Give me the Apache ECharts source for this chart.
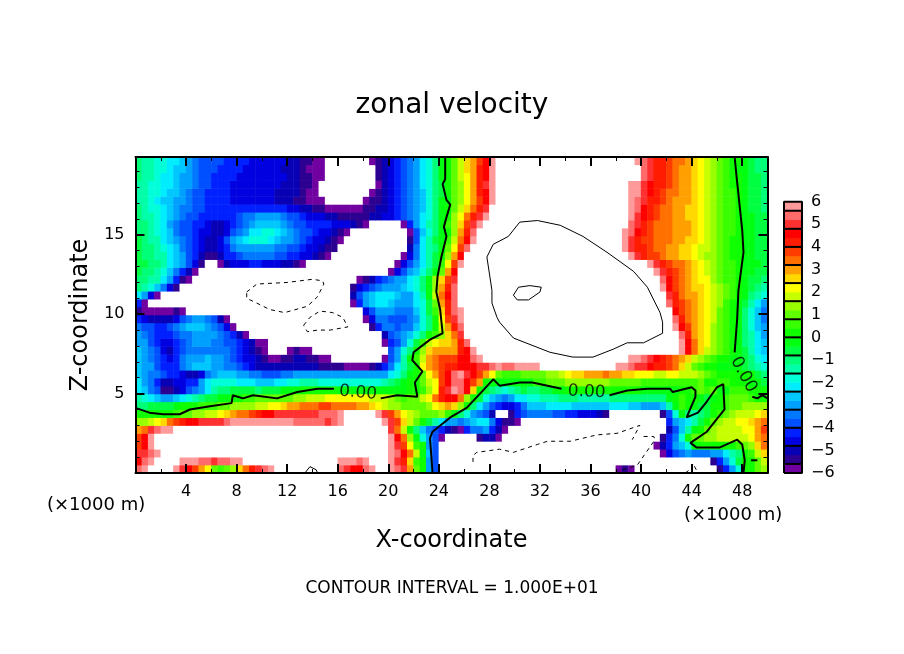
<!DOCTYPE html>
<html>
<head>
<meta charset="utf-8">
<title>zonal velocity</title>
<script src="https://cdn.jsdelivr.net/npm/echarts@6/dist/echarts.min.js"></script>
<style>
html,body{margin:0;padding:0;background:#fff}
#chart{width:904px;height:654px}
</style>
</head>
<body>
<div id="chart"></div>
<script>
// velocity, 0.5 km x 0.5 km cells, top row first. W / L = off the scale (white)
var W=7, L=-7;
var z1975=[-1.1,-1.3,-1.5,-1.7,-1.9,-2.1,-2.4,-2.8,-3.1,-3.5, -3.7,-3.9,-4,-4,-4.1,-4.3,-4.4,-4.4,-4.5,-4.7, -4.7,-4.7,-4.8,-4.8,-4.9,-5.1,-5.4,-5.6,-5.8,-5.9, L,L,L,L,L,L,L,-5.9,-5.4,-5, -4.5,-4.1,-3.8,-3.3,-2.9,-2.4,-1.8,-1.2,-0.4,0.3, 1.1,1.8,2.4,3,3.8,4.6,5.6,W,W,W, W,W,W,W,W,W,W,W,W,W, W,W,W,W,W,W,W,W,W,5.9, 5.4,4.8,4.3,4.1,3.8,3.4,3.2,3,2.6,2.2, 1.7,1.4,1,0.7,0.3,0,-0.4,-0.7,-0.9,-1.1];
var z1925=[-1.1,-1.3,-1.5,-1.7,-2,-2.2,-2.5,-2.8,-3.1,-3.5, -3.7,-3.9,-4,-4.1,-4.2,-4.3,-4.4,-4.5,-4.5,-4.7, -4.7,-4.7,-4.8,-4.9,-5,-5.2,-5.5,-5.7,-5.8,-5.9, L,L,L,L,L,L,L,L,-5.4,-4.9, -4.5,-4.1,-3.8,-3.3,-2.9,-2.3,-1.8,-1.1,-0.4,0.3, 1.1,1.9,2.4,3,4,4.6,5.7,W,W,W, W,W,W,W,W,W,W,W,W,W, W,W,W,W,W,W,W,W,W,W, 5.5,4.8,4.3,4,3.7,3.4,3.1,2.9,2.5,2.2, 1.7,1.3,0.9,0.6,0.3,-0.1,-0.4,-0.7,-0.9,-1.1];
var z1875=[-1.2,-1.4,-1.6,-1.8,-2.1,-2.3,-2.6,-2.9,-3.2,-3.5, -3.7,-3.9,-4.1,-4.2,-4.3,-4.4,-4.5,-4.5,-4.6,-4.7, -4.7,-4.7,-4.8,-4.8,-5,-5.2,-5.4,-5.6,-5.8,-5.9, L,L,L,L,L,L,L,L,-5.6,-5, -4.6,-4.2,-3.8,-3.4,-2.9,-2.4,-1.8,-1.1,-0.3,0.2, 0.9,1.7,2.3,2.9,4,4.7,5.8,W,W,W, W,W,W,W,W,W,W,W,W,W, W,W,W,W,W,W,W,W,W,W, 5.4,4.8,4.3,4,3.7,3.4,3.1,2.9,2.5,2.2, 1.7,1.3,0.9,0.6,0.3,0,-0.3,-0.6,-0.8,-1];
var z1825=[-1.3,-1.5,-1.7,-1.9,-2.1,-2.4,-2.7,-3,-3.2,-3.6, -3.8,-4,-4.2,-4.3,-4.4,-4.5,-4.5,-4.6,-4.7,-4.7, -4.7,-4.8,-4.8,-4.9,-5,-5.2,-5.4,-5.6,-5.9,L, L,L,L,L,L,L,L,L,-5.8,-5.1, -4.7,-4.3,-3.9,-3.4,-3,-2.4,-1.8,-1.2,-0.5,0, 0.8,1.5,2.2,2.8,4,4.8,5.9,W,W,W, W,W,W,W,W,W,W,W,W,W, W,W,W,W,W,W,W,W,5.9,5.6, 5.1,4.6,4.2,4,3.6,3.3,3,2.8,2.5,2.1, 1.7,1.3,0.9,0.6,0.3,0.1,-0.3,-0.6,-0.8,-1];
var z1775=[-1.3,-1.5,-1.8,-2,-2.3,-2.6,-2.8,-3,-3.4,-3.7, -3.9,-4.1,-4.3,-4.4,-4.4,-4.5,-4.6,-4.6,-4.7,-4.7, -4.8,-4.8,-4.9,-4.9,-5,-5.2,-5.4,-5.7,-5.9,L, L,L,L,L,L,L,L,-5.9,-5.6,-5.1, -4.8,-4.4,-4,-3.5,-3.1,-2.5,-1.8,-1.1,-0.6,0, 0.8,1.4,2.2,2.8,4,4.6,5.7,W,W,W, W,W,W,W,W,W,W,W,W,W, W,W,W,W,W,W,W,W,5.9,5.6, 5,4.5,4.1,3.8,3.5,3.2,3,2.8,2.5,2.2, 1.8,1.4,1,0.7,0.4,0.1,-0.3,-0.5,-0.8,-0.9];
var z1725=[-1.4,-1.6,-1.8,-2.2,-2.5,-2.8,-3,-3.2,-3.6,-3.9, -4,-4.2,-4.3,-4.4,-4.4,-4.5,-4.5,-4.6,-4.7,-4.7, -4.8,-4.8,-4.9,-5,-5.1,-5.3,-5.5,-5.8,-5.9,-5.9, L,L,L,L,L,L,-5.9,-5.6,-5.3,-5, -4.7,-4.3,-3.9,-3.5,-3,-2.5,-1.8,-1.1,-0.4,-0.1, 0.8,1.5,2.3,2.8,3.9,4.5,5.6,W,W,W, W,W,W,W,W,W,W,W,W,W, W,W,W,W,W,W,W,W,5.9,5.4, 4.8,4.3,4,3.7,3.4,3.1,3,2.8,2.5,2.2, 1.8,1.4,1,0.7,0.4,0.1,-0.2,-0.5,-0.7,-0.9];
var z1675=[-1.2,-1.4,-1.7,-2,-2.4,-2.7,-3,-3.3,-3.6,-3.8, -4,-4.1,-4.2,-4.3,-4.3,-4.3,-4.3,-4.3,-4.3,-4.2, -4.2,-4.2,-4.3,-4.4,-4.6,-4.8,-5,-5.2,-5.4,-5.6, -5.8,-5.9,-5.9,-5.9,-5.9,-5.9,-5.6,-5.3,-5.1,-4.9, -4.6,-4.3,-3.9,-3.5,-3,-2.5,-1.8,-1,-0.4,0.1, 1,1.8,2.7,3.3,4.2,5,W,W,W,W, W,W,W,W,W,W,W,W,W,W, W,W,W,W,W,W,W,W,5.9,5.2, 4.6,4.1,3.8,3.5,3.3,3,2.9,2.7,2.4,2.2, 1.8,1.4,1,0.7,0.4,0.1,-0.2,-0.5,-0.7,-0.9];
var z1625=[-1.1,-1.3,-1.6,-1.9,-2.4,-2.8,-3.2,-3.4,-3.7,-3.9, -4.1,-4.2,-4.3,-4.4,-4.4,-4.1,-3.8,-3.6,-3.3,-3.1, -3,-3,-3.2,-3.4,-3.7,-4,-4.3,-4.5,-4.7,-4.8, -5,-5.1,-5.3,-5.4,-5.5,-5.4,-5.3,-5.2,-5,-4.8, -4.6,-4.3,-3.9,-3.5,-3,-2.4,-1.7,-1.1,-0.3,0.2, 1.2,2.2,3.3,4,5,5.9,W,W,W,W, W,W,W,W,W,W,W,W,W,W, W,W,W,W,W,W,W,W,5.8,5, 4.4,4,3.7,3.4,3.3,3.1,2.9,2.7,2.4,2.2, 1.8,1.4,1,0.7,0.4,0.2,-0.2,-0.4,-0.6,-0.8];
var z1575=[-1,-1.2,-1.5,-1.9,-2.4,-2.9,-3.4,-3.7,-4,-4.2, -4.4,-4.7,-5,-5,-4.7,-4.3,-3.8,-3.4,-3,-2.7, -2.6,-2.6,-2.8,-3,-3.3,-3.7,-3.9,-4.1,-4.2,-4.3, -4.4,-4.5,-4.6,-4.8,-5.1,-5.6,-5.9,L,L,L, L,L,-5.9,-4.4,-3.2,-2.3,-1.6,-0.9,-0.2,0.4, 1.4,2.5,3.6,4.8,5.9,W,W,W,W,W, W,W,W,W,W,W,W,W,W,W, W,W,W,W,W,W,W,W,5.4,4.8, 4.2,3.8,3.5,3.3,3.2,3.1,3,2.8,2.4,2.1, 1.7,1.4,1,0.7,0.4,0.1,-0.1,-0.4,-0.6,-0.8];
var z1525=[-0.9,-1.1,-1.4,-1.7,-2.2,-2.8,-3.4,-3.8,-4,-4.3, -4.5,-4.8,-5,-5,-4.5,-4,-3.3,-2.9,-2.3,-2.1, -2,-1.9,-2.2,-2.6,-3,-3.4,-3.8,-4,-4.3,-4.5, -4.7,-5,-5.3,-5.8,L,L,L,L,L,L, L,L,L,-5.8,-3.9,-2.6,-1.7,-0.9,-0.2,0.3, 1.4,2.8,4,5.4,W,W,W,W,W,W, W,W,W,W,W,W,W,W,W,W, W,W,W,W,W,W,W,5.9,5.2,4.5, 4,3.7,3.5,3.4,3.3,3.1,3,2.8,2.5,2.1, 1.7,1.4,1,0.7,0.4,0.1,-0.1,-0.4,-0.6,-0.8];
var z1475=[-0.8,-1,-1.3,-1.6,-2.1,-2.7,-3.2,-3.6,-4,-4.4, -4.8,-5,-5,-4.6,-4,-3.2,-2.6,-2.2,-2,-1.9, -1.9,-2.1,-2.5,-3,-3.2,-3.6,-3.9,-4.2,-4.5,-4.8, -5,-5.4,-5.9,L,L,L,L,L,L,L, L,L,L,-5.6,-3.7,-2.4,-1.6,-0.8,-0.1,0.5, 1.8,3.2,4.6,5.9,W,W,W,W,W,W, W,W,W,W,W,W,W,W,W,W, W,W,W,W,W,W,W,5.6,4.9,4.2, 3.9,3.6,3.4,3.3,3.2,3.1,2.9,2.7,2.4,2.1, 1.7,1.3,1,0.6,0.3,0.1,-0.1,-0.4,-0.6,-0.8];
var z1425=[-0.8,-1,-1.2,-1.5,-1.8,-2.3,-2.8,-3.3,-3.7,-4.2, -4.8,-5.2,-5.1,-4.6,-4.1,-3.5,-3.2,-3,-3,-2.9, -3,-3.1,-3.3,-3.5,-3.8,-4,-4.2,-4.5,-4.7,-5, -5.3,-5.6,L,L,L,L,L,L,L,L, L,L,L,-5,-3.6,-2.3,-1.6,-0.9,-0.1,0.8, 2.2,3.6,5.2,W,W,W,W,W,W,W, W,W,W,W,W,W,W,W,W,W, W,W,W,W,W,W,W,5.9,5,4.2, 4,3.7,3.5,3.2,3,2.9,2.7,2.5,2.2,1.9, 1.6,1.2,0.9,0.6,0.3,0.1,-0.1,-0.4,-0.6,-0.7];
var z1375=[-0.7,-0.9,-1.1,-1.3,-1.6,-2.1,-2.6,-3.2,-3.7,-4.4, -5,-5.6,-5.4,-4.9,-4.4,-4.1,-3.7,-3.6,-3.5,-3.4, -3.4,-3.5,-3.8,-4,-4.2,-4.4,-4.6,-4.8,-5.1,-5.5, -5.9,L,L,L,L,L,L,L,L,L, L,L,-5.8,-4.8,-3.4,-2.2,-1.5,-0.8,0.1,1.4, 3,4.6,W,W,W,W,W,W,W,W, W,W,W,W,W,W,W,W,W,W, W,W,W,W,W,W,W,W,5.6,4.8, 4.3,3.9,3.6,3.3,3,2.8,2.6,2.4,2.1,1.8, 1.5,1.2,0.8,0.6,0.3,0,-0.1,-0.3,-0.5,-0.6];
var z1325=[-0.7,-0.8,-1,-1.2,-1.6,-2.1,-2.7,-3.2,-3.7,-4.6, -5.5,L,L,-5.8,-5,-4.8,-4.6,-4.5,-4.4,-4.4, -4.5,-4.5,-4.7,-4.9,-5.2,-5.6,-5.9,L,L,L, L,L,L,L,L,L,L,L,L,L, L,-5.8,-4.8,-3.8,-3,-2.1,-1.4,-0.6,0.5,2, 3.8,5.6,W,W,W,W,W,W,W,W, W,W,W,W,W,W,W,W,W,W, W,W,W,W,W,W,W,W,W,W, W,5.9,5,4.3,3.8,3.4,3.2,2.8,2.4,2.1, 1.7,1.3,0.9,0.6,0.4,0.1,-0.1,-0.3,-0.4,-0.5];
var z1275=[-0.8,-0.9,-1.1,-1.3,-1.9,-2.6,-3.4,-4.2,-5,-5.9, L,L,L,L,L,L,L,L,L,L, L,L,L,L,L,L,L,L,L,L, L,L,L,L,L,L,L,L,L,L, -5.8,-4.8,-3.9,-3.2,-2.6,-1.9,-1.2,-0.4,1,3, 4.4,W,W,W,W,W,W,W,W,W, W,W,W,W,W,W,W,W,W,W, W,W,W,W,W,W,W,W,W,W, W,W,5.9,4.8,4,3.6,3.3,2.9,2.5,2.2, 1.9,1.4,1,0.7,0.4,0.1,-0.2,-0.4,-0.6,-0.7];
var z1225=[-1,-1.1,-1.3,-1.6,-2.3,-3.2,-4.2,-5.4,-5.9,L, L,L,L,L,L,L,L,L,L,L, L,L,L,L,L,L,L,L,L,L, L,L,L,L,L,-5.9,-5.4,-4.9,-4.2,-3.8, -3.4,-3.1,-2.9,-2.4,-2,-1.2,-0.4,1.2,2.6,3.8, 5,W,W,W,W,W,W,W,W,W, W,W,W,W,W,W,W,W,W,W, W,W,W,W,W,W,W,W,W,W, W,W,W,5.4,4.4,3.8,3.4,3,2.6,2.3, 2,1.5,1.1,0.7,0.4,0.1,-0.3,-0.5,-0.8,-1];
var z1175=[-1.1,-1.4,-1.9,-2.6,-3.6,-4.8,-5.6,L,L,L, L,L,L,L,L,L,L,L,L,L, L,L,L,L,L,L,L,L,L,L, L,L,L,L,-5.6,-4.8,-4.3,-3.9,-3.5,-3.2, -3.2,-2.9,-2.8,-2.4,-2,-1.2,-0.4,1.4,3,4.2, 5.2,W,W,W,W,W,W,W,W,W, W,W,W,W,W,W,W,W,W,W, W,W,W,W,W,W,W,W,W,W, W,W,W,5.6,4.4,3.8,3.4,3,2.7,2.4, 2,1.6,1.2,0.8,0.4,0.2,-0.3,-0.6,-1,-1.4];
var z1125=[-2.2,-3.2,-4.6,-5.8,L,L,L,L,L,L, L,L,L,L,L,L,L,L,L,L, L,L,L,L,L,L,L,L,L,L, L,L,L,L,-5.2,-4,-3.2,-2.8,-2.4,-2.2, -2.4,-2.8,-3,-2.9,-2.4,-1.6,-0.4,1.8,3.2,4.4, 5.4,W,W,W,W,W,W,W,W,W, W,W,W,W,W,W,W,W,W,W, W,W,W,W,W,W,W,W,W,W, W,W,W,W,5,4,3.5,3.1,2.8,2.5, 2.2,1.7,1.2,0.8,0.4,0.1,-0.4,-0.9,-1.4,-2];
var z1075=[-4.4,-5.8,L,L,L,L,L,L,L,L, L,L,L,L,L,L,L,L,L,L, L,L,L,L,L,L,L,L,L,L, L,L,L,L,-5.9,-4.4,-3.2,-2.6,-2.2,-2.1, -2.5,-3,-3.1,-3,-2.4,-1.7,-0.6,1,3,4.2, 5.4,W,W,W,W,W,W,W,W,W, W,W,W,W,W,W,W,W,W,W, W,W,W,W,W,W,W,W,W,W, W,W,W,W,5.4,4.2,3.6,3.2,2.8,2.4, 2.2,1.7,1.2,0.7,0.1,-0.2,-0.8,-1.4,-2.2,-3];
var z1025=[-5.4,-5.9,-5.9,-5.9,-5.9,-5.8,-5.4,-5.9,L,L, L,L,L,L,L,L,L,L,L,L, L,L,L,L,L,L,L,L,L,L, L,L,L,L,L,L,-4.8,-3.8,-3.1,-2.9, -3.1,-3.4,-3.6,-3.4,-2.8,-1.8,-0.7,0.4,2.6,4, 5.4,6,W,W,W,W,W,W,W,W, W,W,W,W,W,W,W,W,W,W, W,W,W,W,W,W,W,W,W,W, W,W,W,W,W,4.6,3.8,3.3,2.9,2.4, 2.1,1.6,1,0.5,0,-0.4,-1,-1.8,-2.8,-3.6];
var z0975=[-4.4,-4.8,-5,-5.1,-5.1,-5,-4.6,-3.9,-3.4,-3.2, -3.2,-3.4,-4,-5,-5.9,L,L,L,L,L, L,L,L,L,L,L,L,L,L,L, L,L,L,L,L,L,-5.9,-4.6,-3.6,-3.6, -3.7,-3.8,-3.8,-3.6,-3,-2,-1.1,0.3,2.2,3.6, 4.8,5.8,W,W,W,W,W,W,W,W, W,W,W,W,W,W,W,W,W,W, W,W,W,W,W,W,W,W,W,W, W,W,W,W,W,5.2,4.2,3.4,3,2.6, 2.1,1.6,1,0.5,0,-0.4,-1,-1.8,-2.8,-3.4];
var z0925=[-3.4,-3.8,-4,-4.3,-4.2,-3.8,-3.5,-3,-2.8,-2.7, -2.7,-2.9,-3.4,-3.8,-4.6,-5.8,L,L,L,L, L,L,L,L,L,L,L,L,L,L, L,L,L,L,L,L,L,-5.6,-4.4,-3.6, -3.6,-3.7,-3.6,-3.3,-2.8,-1.9,-1.1,0.2,1.6,3, 4.2,5.4,W,W,W,W,W,W,W,W, W,W,W,W,W,W,W,W,W,W, W,W,W,W,W,W,W,W,W,W, W,W,W,W,W,5.8,4.6,3.6,3,2.6, 2.1,1.5,1,0.5,0,-0.4,-1,-1.7,-2.6,-3.2];
var z0875=[-3.2,-3.4,-3.8,-4.1,-4.4,-4.4,-4,-3.6,-3.4,-3.2, -3,-3,-3.1,-3.4,-3.8,-4.2,-5,-5.8,L,L, L,L,L,L,L,L,L,L,L,L, L,L,L,L,L,L,L,L,L,-5.2, -4,-3.6,-3.2,-2.6,-1.9,-1,0,0.5,1.2,2.5, 3.4,4.8,W,W,W,W,W,W,W,W, W,W,W,W,W,W,W,W,W,W, W,W,W,W,W,W,W,W,W,W, W,W,W,W,W,W,5.4,4,3.1,2.6, 2,1.5,1,0.5,0,-0.4,-1,-1.6,-2.4,-3];
var z0825=[-2.9,-3.2,-3.7,-4.1,-4.7,-4.8,-4.2,-3.8,-3.4,-3.2, -3.2,-3.2,-3.3,-3.4,-3.7,-3.9,-4.3,-4.6,-5,-5.7, -5.9,L,L,L,L,L,L,L,L,L, L,L,L,L,L,L,L,L,L,-5.8, -4.4,-3.7,-3,-1.8,-0.8,0.5,1.6,2.2,2.6,2.6, 2.8,4,5.2,W,W,W,W,W,W,W, W,W,W,W,W,W,W,W,W,W, W,W,W,W,W,W,W,W,W,W, W,W,W,W,W,W,5.9,4.4,3.2,2.6, 2,1.5,1,0.5,0,-0.4,-0.9,-1.5,-2.2,-2.8];
var z0775=[-2.8,-3.1,-3.6,-4,-4.7,-5,-4.4,-3.9,-3.5,-3.4, -3.3,-3.3,-3.4,-3.5,-3.6,-3.8,-4.2,-4.6,-4.9,-5.4, -5.9,L,L,L,-5.9,-5.6,-5.7,-5.9,L,L, L,L,L,L,L,L,L,L,L,L, -3.8,-3.2,-1.8,-1,0,1.2,2.4,2.8,2.9,2.9, 3,4,4.6,5.8,W,W,W,W,W,W, W,W,W,W,W,W,W,W,W,W, W,W,W,W,W,W,W,W,W,W, W,W,W,W,W,W,5.8,4.5,3.2,2.4, 1.8,1.3,0.9,0.4,0.1,-0.4,-0.8,-1.4,-2.2,-2.6];
var z0725=[-2.6,-2.9,-3.3,-3.8,-4.4,-4.6,-4.2,-3.6,-3.2,-3, -2.9,-2.8,-2.9,-3.1,-3.4,-3.7,-4.1,-4.5,-4.8,-5.2, -5.4,-5.7,-5.8,-5.5,-5.3,-5.2,-5.2,-5.4,-5.6,-5.9, -5.9,L,L,L,L,L,L,L,L,-5.8, -3.9,-3,-1.4,-0.4,0.4,1.6,2.8,3.4,3.6,3.6, 3.9,4.4,4.6,5.2,5.9,W,W,W,W,W, W,W,W,W,W,W,W,W,W,W, W,W,W,W,W,W,W,W,5.9,5.6, 5.2,4.8,4.4,4,3.8,3.5,3,2.4,1.8,1.3, 0.9,0.4,0.1,0,-0.2,-0.4,-0.7,-1.1,-1.7,-2.1];
var z0675=[-2.6,-2.9,-3.2,-3.7,-4.2,-4.4,-4.4,-3.6,-3,-2.8, -2.7,-2.8,-3,-3.2,-3.4,-3.6,-4,-4.3,-4.5,-5, -5.2,-5.2,-5.2,-5.1,-5,-4.9,-5,-5.1,-5.2,-5.4, -5.5,-5.5,-5.6,-5.7,-5.7,-5.8,-5.8,-5.5,-5,-4.4, -3.4,-2.4,-1.6,-0.8,0.2,2,2.8,3.4,3.8,4, 4.2,4.5,4.6,4.7,4.8,5,5.4,5.6,5.4,5.5, 5.6,5.7,5.8,5.9,W,W,W,W,W,W, W,W,W,W,W,W,5.9,5.6,5.2,5, 4.8,4.6,4.2,4,3.8,3.4,2.4,1.7,1,0.7, 0.3,0,-0.1,-0.2,-0.2,-0.3,-0.6,-1,-1.4,-1.8];
var z0625=[-2.8,-3,-3.3,-3.6,-4,-4.2,-4.4,-4.7,-5,-5, -4.6,-3.6,-2.9,-2.6,-2.6,-2.6,-3,-3.2,-3.4,-3.6, -3.8,-3.8,-3.8,-3.6,-3.4,-3.2,-3.1,-3,-3,-3, -3,-3,-3,-3.1,-3.1,-3.1,-3.1,-3.1,-3.1,-3, -2.4,-1.8,-1,-0.4,0,1,2,2.8,3.8,4.4, 5.2,5.6,4.8,4.4,3.8,3,2,1,0.4,0.4, 0.6,0.8,1,1,1,1.2,1.4,1.8,2.2,2.4, 2.6,2.9,3,3.1,3.2,3,2.8,2.6,2.4,2.3, 2.2,2,1.8,1.8,2,2,1.8,1.6,1.6,1.2, 0.8,0.5,0.3,0.1,0,0,0,0,-0.6,-1];
var z0575=[-2.4,-2.9,-3.6,-4.2,-5,-5.2,-4.8,-4.6,-4.2,-4.2, -3,-2.4,-1.9,-1.8,-1.9,-2,-2.2,-2.4,-2.4,-2.5, -2.6,-2.5,-2.4,-2.2,-2,-1.8,-1.6,-1.6,-1.6,-1.7, -1.8,-1.9,-2,-2,-2,-2,-2,-2,-1.8,-1.6, -1.2,-0.8,-0.2,0,0.2,0.8,1.6,2.2,3.8,4.6, 5.4,5.4,4.6,3.8,2.8,0,-0.3,-0.4,-0.3,-0.1, -0.1,-0.1,-0.1,0.4,0.6,0.8,1,1.1,1.2,1.2, 1.2,1.3,1.3,1.3,1.2,1,1,0.9,0.8,0.8, 0.7,0.7,0.6,0.6,0.6,0.5,0.4,0.5,0.7,0.8, 0,0.2,0.4,0.4,0.2,0.1,0,-0.1,-0.4,-0.5];
var z0525=[-2.2,-2.6,-3.4,-4,-5.4,-5.6,-5.2,-4.6,-4,-3.4, -3,-2.2,-1.6,-1.2,-1,-0.8,-0.8,-0.8,-0.8,-0.9, -0.8,-0.7,-0.6,-0.4,-0.3,-0.2,0,0.1,0.2,0.2, 0.1,0,-0.1,-0.2,-0.2,-0.2,-0.3,-0.3,-0.3,-0.4, -0.4,-0.4,-0.3,0,0.2,0.6,1.2,2.2,4,5, 5.6,5.2,4.4,2.6,0.2,-0.6,-1,-1.6,-1.8,-1.6, -1.2,-0.8,-0.9,-0.9,-0.8,-0.7,-0.4,-0.1,0,0, 0.1,0.1,0.1,0.1,0.1,0,0.1,0.1,0.1,0, -0.1,-0.1,-0.1,-0.1,-0.1,-0.1,0,0,0.6,0.8, 0.6,0.8,-0.2,-0.2,0.5,0.5,0.4,0.3,0.2,0.1];
var z0475=[-1.6,-2,-2.2,-2.6,-3,-3,-2.8,-2.4,-2,-1.6, -1.2,-0.8,-0.5,-0.3,-0.1,0,0.1,0.4,0.6,0.8, 0.8,0.9,1,1,1.1,1.3,1.4,1.6,1.8,1.9, 2,2,2.1,2.2,2.2,2.2,2,1.8,1.8,1.6, 1.2,1,0.7,0.8,1,1.6,2.2,3.2,4.2,4.4, 4.6,3.4,1.2,0.1,-0.8,-1.8,-2.6,-3.2,-3.4,-3.2, -2.4,-2.2,-2,-1.8,-1.6,-1.5,-1.4,-1.2,-1.2,-1.2, -1.3,-1.3,-1.4,-1.5,-1.4,-1.2,-1.2,-1,-0.9,-0.9, -0.9,-0.9,-1,-1,-0.3,0,0.4,0.3,0,-0.4, -0.6,-0.2,0.3,0.6,0.8,1,1,0.4,0.2,0.1];
var z0425=[-0.9,-0.9,-0.7,-0.7,-0.6,-0.5,-0.2,0.1,0.2,0.3, 0.4,0.5,0.7,1,1,1.2,1.2,1.2,1.4,1.6, 1.8,2,2.2,2.6,2.8,3,3.2,3.2,3.4,3.6, 3.6,3.5,3.4,3.3,3.2,3,2.8,2.4,2.2,1.8, 1.4,1.2,1,0.9,0.9,1,1.2,2,2.4,2.8, 2.4,1.2,0.1,-1.2,-2.2,-3,-3.8,-4.4,-4.8,-4.6, -4.2,-3.4,-2.8,-2.6,-2.6,-2.4,-2.4,-2.4,-2.4,-2.5, -2.5,-2.6,-2.6,-2.8,-2.6,-2.4,-2.2,-2.4,-2.6,-2.8, -3,-3,-3.2,-2.6,-1.6,-0.1,0.4,0.1,-0.4,-0.6, -0.5,0,0.1,0.6,0.9,1.1,1.2,1.2,1.2,1.4];
var z0375=[0.1,0.1,0,0.1,0.2,0.3,0.6,0.8,1.1,1.3, 1.5,1.7,1.8,2.1,2.4,2.8,3.2,3.4,3.9,4.3, 4.6,4.7,4.8,4.9,5,5,5,5,5,5.2, 5.3,5.4,5.9,W,W,W,W,W,5.8,5, 3.8,3,2.2,1.6,1.2,1,0.9,1,1.2,0.6, -0.1,-1,-2,-3,-3.6,-3.8,-5,L,L,-5.4, -4.2,-3.8,-3.6,-3.4,-3.4,-3.6,-3.8,-4,-4.2,-4.3, -4.5,-4.6,-4.8,-5.2,-5.6,L,L,L,L,L, L,L,L,-5.4,-4,-2,-0.2,-1.2,-1.4,-1.2, -0.6,0,0.4,1,1.4,1.6,1.7,1.8,2,2.4];
var z0325=[1.2,1.4,1.6,2,2.6,3.2,3.6,4,4.4,4.6, 4.8,4.9,5,5,5.4,5.6,5.8,5.8,5.6,5.6, 5.8,5.9,5.9,5.8,5.6,5.4,5.4,5.4,5.3,5.2, 5.1,5.2,5.6,W,W,W,W,W,W,5.6, 4.8,3.6,2.4,1.6,0.9,0.2,-0.6,-1.6,-2.4,-3, -3.2,-3.4,-3.2,-2.8,-2.4,-2.2,-3.4,-4.6,-5.4,-5.6, -5.8,L,L,L,L,L,L,L,L,L, L,L,L,L,L,L,L,L,L,L, L,L,L,L,-4.4,-3,-2.8,-2.4,-1.6,-0.6, 0.2,0.8,1.2,1.6,1.8,2,2.2,2.4,2.8,3.2];
var z0275=[3,3.4,4.8,5.4,5.6,5.8,W,W,W,W, W,W,W,W,W,W,W,W,W,W, W,W,W,W,W,W,W,W,W,W, W,W,W,W,W,W,W,W,W,W, 5,3.4,1.8,0.2,-1.2,-2.6,-3.6,-3.8,-4.4,-5, -5.4,-5.8,-4.4,-3.6,-3.4,-3,-4.2,-5.2,-5.9,L, L,L,L,L,L,L,L,L,L,L, L,L,L,L,L,L,L,L,L,L, L,L,L,L,-5.2,-4,-2.8,-1.6,-0.4,0.3, 0.8,1.2,1.6,1.8,1.9,1.9,2,2.2,3,3.6];
var z0225=[3.6,4.4,5.8,W,W,W,W,W,W,W, W,W,W,W,W,W,W,W,W,W, W,W,W,W,W,W,W,W,W,W, W,W,W,W,W,W,W,W,W,W, 5.6,4.6,3.2,1.2,-0.2,-1.8,-3.2,-4,-5.8,L, L,L,L,L,-5.4,-5,-5.2,-5.8,L,L, L,L,L,L,L,L,L,L,L,L, L,L,L,L,L,L,L,L,L,L, L,L,L,-5.4,-4.4,-3.4,-2,0,0.8,1, 1.2,1.4,1.8,1.8,1.7,1.6,1.7,2,2.8,3.4];
var z0175=[3.8,4.6,5.6,W,W,W,W,W,W,W, W,W,W,W,W,W,W,W,W,W, W,W,W,W,W,W,W,W,W,W, W,W,W,W,W,W,W,W,W,W, 5.7,5,3.8,2.2,0.4,0,-3,-3.8,L,L, L,L,L,L,L,L,L,L,L,L, L,L,L,L,L,L,L,L,L,L, L,L,L,L,L,L,L,L,L,L, L,L,-5.8,-5,-4.2,-3.2,-2.6,-1.8,-0.2,0.1, 0.1,0.2,0.3,0,0,0.4,1,1.4,2.6,3.2];
var z0125=[4.8,5,5.4,5.6,W,W,W,W,W,W, W,W,W,W,W,W,W,W,W,W, W,W,W,W,W,W,W,W,W,W, W,W,W,W,W,W,W,W,W,W, 5.6,5.2,4.4,3.2,1.6,-0.1,-2.6,-3.8,L,L, L,L,L,L,L,L,L,L,L,L, L,L,L,L,L,L,L,L,L,L, L,L,L,L,L,L,L,L,L,L, L,L,L,-5.8,-4.6,-3.8,-3.4,-3.2,-3.4,-3.6, -3.4,-3.2,-3,-2.4,-1.6,-1,0,0.4,1.8,2.6];
var z0075=[4.6,5.4,5.8,W,W,W,W,5.9,5.8,5.7, 5.2,5.2,5,5.2,5.4,5.7,5.9,W,W,W, W,W,W,W,W,W,W,W,W,W, W,W,5.8,5.6,5.6,5.4,5.8,W,W,W, 5.6,5,4.2,2.6,0.6,0,-3,-3.8,L,L, L,L,L,L,L,L,L,L,L,L, L,L,L,L,L,L,L,L,L,L, L,L,L,L,L,L,L,L,L,L, L,L,L,L,L,L,L,L,L,L, L,-5.6,-4.4,-3.2,-1.8,-0.8,0,0,1,1.8];
var z0025=[5.4,5.8,W,W,W,W,5.8,5,4.4,3.6, 2.8,2,1,0.6,1,1.4,2.6,3.4,4.2,4.8, 5.2,5.8,W,W,W,W,W,W,W,W, W,W,5.4,4.8,4.4,4.6,5.4,5.8,W,W, 5.8,5.4,4.8,3,0.8,0,-3.2,-3.8,L,L, L,L,L,L,L,L,L,L,L,L, L,L,L,L,L,L,L,L,L,L, L,L,L,L,L,L,-5.8,-5.6,-5.8,L, L,L,L,L,L,L,L,L,L,L, L,L,-5.4,-4.2,-3,-1.8,0,0.2,1,1.4];
var rows=[z0025,z0075,z0125,z0175,z0225,z0275,z0325,z0375,z0425,z0475,z0525,z0575,z0625,z0675,z0725,z0775,z0825,z0875,z0925,z0975,z1025,z1075,z1125,z1175,z1225,z1275,z1325,z1375,z1425,z1475,z1525,z1575,z1625,z1675,z1725,z1775,z1825,z1875,z1925,z1975];

// colour scale
var levelEdges=[-6,-5.6,-5.2,-4.8,-4.4,-4,-3.6,-3.2,-2.8,-2.4,-2,-1.6,-1.2,-0.8,-0.4,0,0.4,0.8,1.2,1.6,2,2.4,2.8,3.2,3.6,4,4.4,4.8,5.2,5.6,6];
var levelColors=['#7000a0','#2c0090','#0800b4','#0000e0','#0020ff','#0050ff','#0078ff','#00a0ff','#00c8ff','#00ecff','#00ffd8','#00ffa8','#00ff78','#00ff40','#00ff10','#10ff00','#38ff00','#60ff00','#98ff00','#c8ff00','#ffff00','#ffd800','#ffa000','#ff7000','#ff3c00','#ff1c00','#ff0000','#ff3030','#ff6a6a','#ff9a9a'];
var barLines=[-5.6,-4.8,-4,-3.2,-2.4,-1.6,-0.8,0,0.8,1.6,2.4,3.2,4,4.8,5.6];

// contours, [x (km), z (km)]
var zeroTop=[[24.5,19.9],[24.5,18.5],[24.3,18.2],[24.6,17.2],[24.9,16.9],[24.6,16.1],[24.4,15.5],[24.6,14.9],[24.2,13.6],[23.9,12.4],[23.8,11.4],[24.1,10.3],[24.3,8.8],[23.3,8.4],[22,7.6],[21.9,7.1],[22.7,6.4],[22.1,5.7],[22.3,4.8],[20.7,4.9],[19.4,4.7]];
var zeroLeft=[[15.7,5.3],[14.4,5.3],[12.8,5.1],[11.2,4.7],[9.3,4.9],[8.5,4.7],[7.7,4.9],[7.6,4.4],[5.9,4.2],[4.3,4],[3.5,3.7],[2.2,3.7],[1.1,3.8],[0,4.1]];
var zeroMidA=[[23.5,0],[23.3,2.2],[23.5,2.6],[24.9,3.5],[26.2,4.1],[27.5,5.2],[28.3,5.9],[28.8,5.5],[30.4,5.7],[31.4,5.7],[33.7,5.3]];
var zeroMidB=[[37.5,4.9],[38.9,5.2],[40.5,5.3],[42.3,5.3],[42.5,5.1],[44,5.4],[44.3,5.2],[44.3,4.8],[43.6,3.5],[44.5,3.8],[45.2,4.5],[46,5.4],[46.5,5.6],[46.6,4],[45.2,2.6],[43.9,1.9],[44.4,1.6],[46.2,1.6],[47.6,2.1],[48,1.8],[48.2,0.8],[48.1,0]];
var zeroRight=[[47.4,19.9],[47.6,18.3],[48,15.3],[48.1,13.9],[47.7,11.5],[47.6,9.7],[47.4,7.6]];
var zeroTail=[[48.8,4.8],[49.2,4.7],[49.6,4.9],[50,4.7]];
var zeroDash=[[48.7,0.8],[49.2,0.8]];
var zeroLines=[zeroTop,zeroLeft,zeroMidA,zeroMidB,zeroRight,zeroTail,zeroDash];
var zeroLabels=[[17.6,5.05,-5],[35.7,5.1,-3],[48.1,6.2,-62]];

var posBig=[[29.9,15.3],[30.4,15.8],[31.8,15.9],[33.6,15.6],[35.4,14.9],[37.3,13.9],[39.4,12.7],[40.5,11.7],[41.5,10.1],[41.7,9.5],[41.7,8.8],[40.2,8.2],[38.9,8.2],[37.8,7.8],[36.2,7.3],[34.6,7.3],[32.8,7.6],[29.9,8.5],[28.8,9.5],[28.6,9.8],[28.2,10.7],[28.2,11.5],[27.8,13.6],[28.3,14.4],[29.5,14.9],[29.9,15.3]];
var posSmall=[[29.9,11.2],[30.3,11.7],[31.2,11.8],[32.1,11.7],[32,11.4],[31.1,10.9],[30.2,10.9],[29.9,11.2]];
var posFloor=[[13.4,0],[13.8,0.4],[14.3,0.2],[14.4,0]];
var thinLines=[posBig,posSmall,posFloor];

var negA=[[8.8,11.4],[9.6,11.9],[12,12],[14,12.2],[14.8,12.1],[14.9,11.9],[14.4,11.1],[13.6,10.5],[11.8,10.1],[10.6,10.3],[9.6,10.7],[8.8,11],[8.8,11.4]];
var negB=[[13.3,9.3],[13.8,9.8],[14.6,10.2],[15.6,10.1],[16.4,9.8],[16.8,9.2],[15.4,9],[14.4,9],[13.6,8.9],[13.3,9.3]];
var negC=[[26.7,0.7],[26.7,1.1],[27,1.3],[28.8,1.5],[29.9,1.3],[31.8,1.8],[32.6,2],[34.4,2],[36.5,2.4],[38.1,2.5],[39.9,3],[39.3,2.1]];
var negD=[[40.2,2.3],[41,2.3],[41.1,2.1],[39.7,0.5],[38.2,0.1]];
var negE=[[43.5,0],[44,0.3],[44.1,0.6],[44.5,0]];
var dashLines=[negA,negB,negC,negD,negE];

var fontName='DejaVu Sans';

// heatmap cells
var cells=[];
rows.forEach(function(r,k){
    r.forEach(function(v,i){ cells.push([i,k,v]); });
});
var barCells=[];
var pieces=[];
levelColors.forEach(function(c,j){
    barCells.push([0,j,(levelEdges[j]+levelEdges[j+1])/2]);
    pieces.push({gte:levelEdges[j],lt:levelEdges[j+1],color:c});
});
pieces[pieces.length-1]={gte:5.6,lte:6,color:levelColors[29]};

var series=[
    {type:'heatmap',xAxisIndex:0,yAxisIndex:0,data:cells,silent:true,progressive:0,z:1},
    {type:'heatmap',xAxisIndex:3,yAxisIndex:3,data:barCells,silent:true,z:1}
];
function addLine(pts,width,dash,xi,yi){
    series.push({type:'line',xAxisIndex:xi,yAxisIndex:yi,data:pts,symbol:'none',silent:true,z:3,clip:false,
        lineStyle:{color:'#000',width:width,type:dash}});
}
zeroLines.forEach(function(p){ addLine(p,2,'solid',1,1); });
thinLines.forEach(function(p){ addLine(p,1,'solid',1,1); });
dashLines.forEach(function(p){ addLine(p,1,[4,4],1,1); });
// colour bar frame and separators
barLines.forEach(function(v){ addLine([[0,v],[1,v]],2,'solid',4,4); });
addLine([[0,-6],[1,-6],[1,6],[0,6],[0,-6]],2,'solid',4,4);
// 0.00 labels on the zero line
series.push({type:'scatter',xAxisIndex:1,yAxisIndex:1,symbolSize:0,silent:true,z:4,
    data:zeroLabels.map(function(d){
        return {value:[d[0],d[1]],label:{show:true,position:'inside',formatter:'0.00',rotate:d[2],
            fontFamily:fontName,fontSize:17,color:'#000'}};
    })});

function frameAxis(o){
    var base={
        gridIndex:0,type:'value',z:5,splitLine:{show:false},
        axisLine:{show:true,onZero:false,lineStyle:{color:'#000',width:2}},
        axisTick:{show:true,inside:true,length:9,lineStyle:{color:'#000',width:2}},
        minorTick:{show:true,length:4,lineStyle:{color:'#000',width:1}},
        axisLabel:{show:false}
    };
    for(var k in o){ base[k]=o[k]; }
    return base;
}
var tickFont={show:true,color:'#000',fontFamily:fontName,fontSize:16,margin:11,showMinLabel:false,showMaxLabel:false};
var nameFont={color:'#000',fontFamily:fontName,fontSize:24};

var option={
    animation:false,
    backgroundColor:'#fff',
    title:[
        {text:'zonal velocity',left:'center',top:87,textStyle:{color:'#000',fontFamily:fontName,fontSize:28,fontWeight:'normal'}},
        {text:'CONTOUR INTERVAL = 1.000E+01',left:'center',top:575,textStyle:{color:'#000',fontFamily:fontName,fontSize:17,fontWeight:'normal'}},
        {text:'(\u00d71000 m)',left:42,top:491,textStyle:{color:'#000',fontFamily:fontName,fontSize:18,fontWeight:'normal'}},
        {text:'(\u00d71000 m)',left:679,top:501,textStyle:{color:'#000',fontFamily:fontName,fontSize:18,fontWeight:'normal'}}
    ],
    grid:[
        {left:135.5,top:157,width:632,height:316},
        {left:784,top:201.7,width:18,height:271.3}
    ],
    visualMap:{type:'piecewise',show:false,dimension:2,seriesIndex:[0,1],pieces:pieces,outOfRange:{color:'#fff'}},
    xAxis:[
        {type:'category',gridIndex:0,show:false,data:z0025.map(function(v,i){return i;})},
        frameAxis({position:'bottom',min:0,max:50,interval:4,minorTick:{show:true,splitNumber:2,length:4,lineStyle:{color:'#000',width:1}},
            axisLabel:tickFont,name:'X-coordinate',nameLocation:'middle',nameGap:56,nameTextStyle:nameFont}),
        frameAxis({position:'top',min:0,max:50,interval:4,minorTick:{show:true,splitNumber:2,length:4,lineStyle:{color:'#000',width:1}}}),
        {type:'category',gridIndex:1,show:false,data:[0]},
        {type:'value',gridIndex:1,show:false,min:0,max:1}
    ],
    yAxis:[
        {type:'category',gridIndex:0,show:false,data:rows.map(function(v,i){return i;})},
        frameAxis({position:'left',min:0,max:19.9,interval:5,minorTick:{show:true,splitNumber:5,length:4,lineStyle:{color:'#000',width:1}},
            axisLabel:tickFont,name:'Z-coordinate',nameLocation:'middle',nameRotate:90,nameGap:36,nameTextStyle:nameFont}),
        frameAxis({position:'right',min:0,max:19.9,interval:5,minorTick:{show:true,splitNumber:5,length:4,lineStyle:{color:'#000',width:1}}}),
        {type:'category',gridIndex:1,show:false,data:levelColors.map(function(v,i){return i;})},
        {type:'value',gridIndex:1,position:'right',min:-6,max:6,interval:1,z:5,
            axisLine:{show:false},axisTick:{show:false},splitLine:{show:false},
            axisLabel:{color:'#000',fontFamily:fontName,fontSize:16,margin:9,
                formatter:function(v){ return v<0 ? '\u2212'+(-v) : ''+v; }}}
    ],
    series:series
};

var myChart=echarts.init(document.getElementById('chart'));
myChart.setOption(option);
</script>
</body>
</html>
